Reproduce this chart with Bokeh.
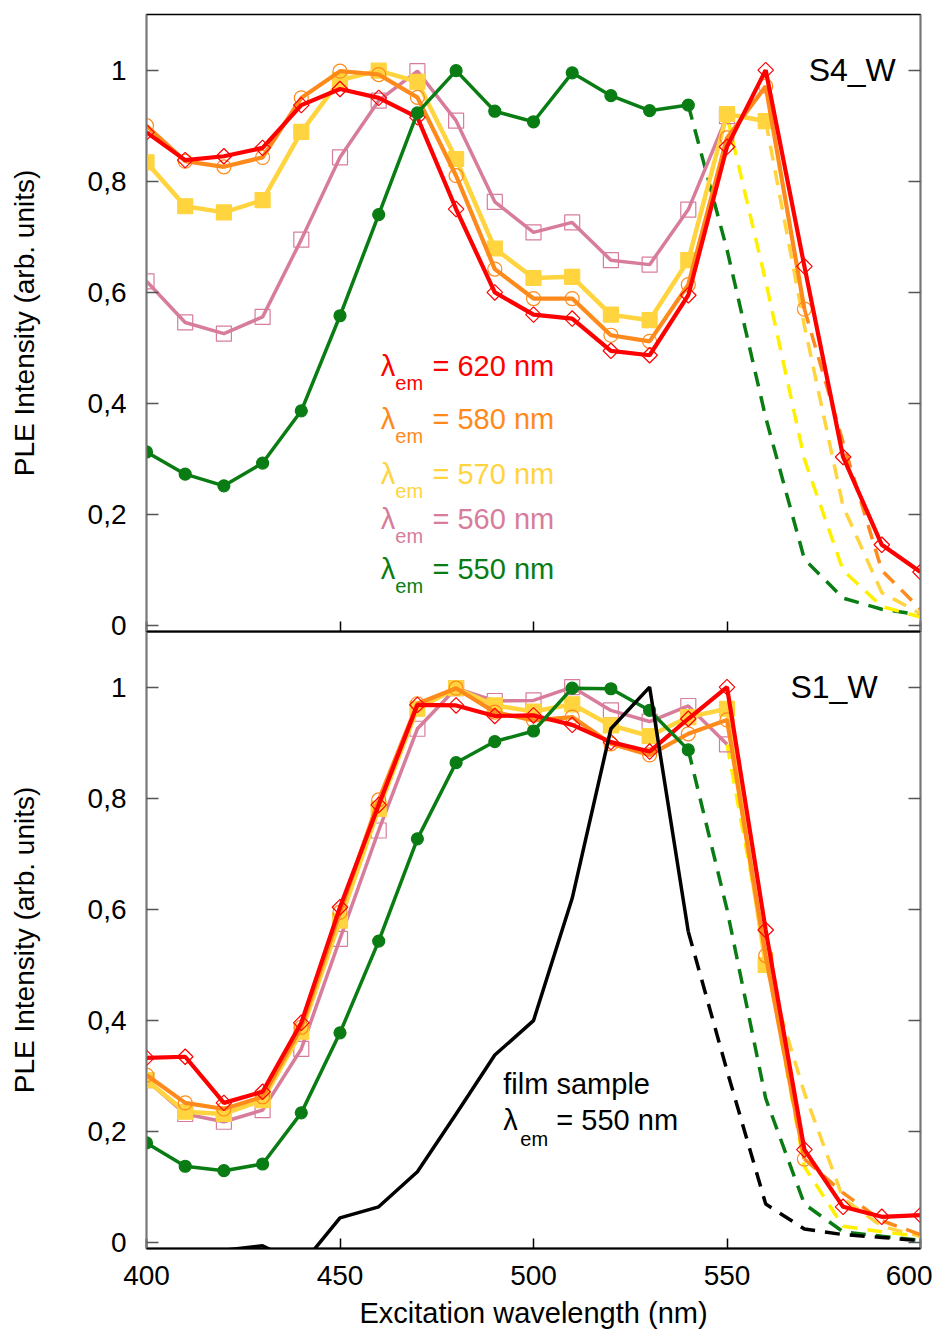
import math
from bokeh.plotting import figure
from bokeh.models import Range1d, LinearAxis, FixedTicker, ColumnDataSource
from bokeh.layouts import column
from bokeh.embed import file_html
from bokeh.resources import INLINE
from bokeh.core.properties import value

# ---------------- data ----------------
wavelengths = list(range(400, 601, 10))
x_ticks = [400, 450, 500, 550, 600]
y_ticks = [0, 0.2, 0.4, 0.6, 0.8, 1.0]
y_tick_labels = ["0", "0,2", "0,4", "0,6", "0,8", "1"]

series_names = ["620 nm", "580 nm", "570 nm", "560 nm", "550 nm"]

# S4_W (top panel)
s4_620 = [0.888, 0.838, 0.845, 0.86, 0.937, 0.966, 0.95, 0.915, 0.75, 0.60, 0.56,
          0.553, 0.495, 0.487, 0.595, 0.862, 1.0, 0.647, 0.304, 0.146, 0.097]
s4_580 = [0.90, 0.836, 0.826, 0.843, 0.95, 0.998, 0.992, 0.951, 0.81, 0.642, 0.589,
          0.589, 0.523, 0.512, 0.614, 0.878, 0.971, 0.57]
s4_580_tail = [0.57, 0.33, 0.10, 0.03]
s4_570 = [0.834, 0.755, 0.744, 0.766, 0.889, 0.982, 0.999, 0.979, 0.84, 0.679, 0.626,
          0.628, 0.56, 0.55, 0.658, 0.921, 0.908]
s4_570_tail = [0.908, 0.54, 0.215, 0.06, 0.022]
s4_560 = [0.62, 0.546, 0.526, 0.556, 0.695, 0.843, 0.945, 0.998, 0.909, 0.763, 0.708,
          0.726, 0.658, 0.65, 0.749, 0.917]
s4_560_tail = [0.917, 0.62, 0.30, 0.10, 0.035, 0.016]
s4_550 = [0.313, 0.273, 0.252, 0.293, 0.387, 0.558, 0.74, 0.923, 0.999, 0.926, 0.907,
          0.995, 0.954, 0.927, 0.937]
s4_550_tail = [0.937, 0.677, 0.375, 0.12, 0.05, 0.03, 0.02]

# S1_W (bottom panel)
s1_620 = [0.333, 0.335, 0.252, 0.272, 0.396, 0.604, 0.788, 0.968, 0.967, 0.948, 0.949,
          0.932, 0.901, 0.884, 0.943, 1.0, 0.563, 0.168, 0.065, 0.047, 0.05]
s1_580 = [0.302, 0.252, 0.241, 0.263, 0.388, 0.595, 0.797, 0.97, 0.998, 0.955, 0.94,
          0.946, 0.898, 0.878, 0.916, 0.941, 0.517, 0.151]
s1_580_tail = [0.151, 0.09, 0.04, 0.015]
s1_570 = [0.293, 0.236, 0.232, 0.257, 0.38, 0.58, 0.781, 0.961, 0.998, 0.967, 0.956,
          0.969, 0.931, 0.912, 0.946, 0.961, 0.5]
s1_570_tail = [0.5, 0.27, 0.08, 0.03, 0.012]
s1_560 = [0.293, 0.232, 0.218, 0.239, 0.349, 0.547, 0.742, 0.925, 0.998, 0.975, 0.976,
          1.0, 0.958, 0.938, 0.966, 0.897]
s1_560_tail = [0.897, 0.52, 0.137, 0.03, 0.02, 0.012]
s1_550 = [0.18, 0.138, 0.13, 0.142, 0.234, 0.378, 0.543, 0.727, 0.864, 0.902, 0.921,
          0.998, 0.997, 0.958, 0.887]
s1_550_tail = [0.887, 0.60, 0.26, 0.07, 0.02, 0.012, 0.005]

film_wavelengths = list(range(410, 541, 10))
film_550 = [-0.04, -0.013, -0.005, -0.04, 0.045, 0.065, 0.128, 0.232, 0.338, 0.40,
            0.62, 0.925, 1.0, 0.56]
film_550_tail = [0.56, 0.31, 0.07, 0.025, 0.015, 0.01, 0.004]

# ---------------- styles ----------------
FONT = "Liberation Sans"
RED = "#FF0000"
ORANGE = "#FF8A1C"
GOLD = "#FFD43E"
PINK = "#D77D9B"
GREEN = "#0A7C14"
YELLOW = "#FFF000"
BLACK = "#000000"
DASH = "15 10"
OVERLAP = 16


def base_figure(is_bottom):
    p = figure(frame_width=774, frame_height=617,
               x_range=Range1d(400, 600), y_range=Range1d(-0.01, 1.1),
               output_backend="svg", toolbar_location=None,
               min_border_left=146, min_border_right=12,
               min_border_top=0 if is_bottom else 14,
               min_border_bottom=0 if is_bottom else OVERLAP)
    p.grid.visible = False
    p.outline_line_color = "black"
    p.outline_line_width = 1.5
    if is_bottom:
        p.background_fill_alpha = 0.0
        p.border_fill_alpha = 0.0
        p.margin = (-OVERLAP, 0, 0, 0)

    # left axis
    yax = p.yaxis[0]
    yax.ticker = FixedTicker(ticks=y_ticks)
    yax.major_label_overrides = dict(zip(y_ticks, y_tick_labels))
    yax.major_tick_in = 12
    yax.major_tick_out = 0
    yax.minor_tick_line_color = None
    yax.major_tick_line_color = "#555555"
    yax.major_tick_line_width = 1.5
    yax.axis_line_color = "#777777"
    yax.axis_line_width = 1.5
    yax.major_label_text_font = FONT
    yax.major_label_text_font_size = "28px"
    yax.major_label_text_color = "black"
    yax.major_label_standoff = 20
    yax.axis_label = "PLE Intensity (arb. units)"
    yax.axis_label_text_font = FONT
    yax.axis_label_text_font_size = "28px"
    yax.axis_label_text_font_style = "normal"
    yax.axis_label_text_color = "black"
    yax.axis_label_standoff = 45

    # right axis (ticks only, no labels drawn)
    rax = LinearAxis(ticker=FixedTicker(ticks=y_ticks), major_label_text_font_size="0px",
                     major_label_text_color=None,
                     major_label_standoff=0, major_tick_in=12, major_tick_out=0,
                     minor_tick_line_color=None, major_tick_line_color="#555555",
                     major_tick_line_width=1.5, axis_line_color="#777777", axis_line_width=1.5)
    p.add_layout(rax, "right")

    # bottom axis
    xax = p.xaxis[0]
    xax.ticker = FixedTicker(ticks=x_ticks)
    xax.major_tick_in = 10
    xax.major_tick_out = 0
    xax.minor_tick_line_color = None
    xax.major_tick_line_color = "black"
    xax.major_tick_line_width = 1.5
    xax.axis_line_color = "black"
    xax.axis_line_width = 2
    if is_bottom:
        xax.major_label_text_font = FONT
        xax.major_label_text_font_size = "28px"
        xax.major_label_text_color = "black"
        xax.major_label_standoff = 17
        xax.axis_label = "Excitation wavelength (nm)"
        xax.axis_label_text_font = FONT
        xax.axis_label_text_font_size = "29px"
        xax.axis_label_text_font_style = "normal"
        xax.axis_label_text_color = "black"
        xax.axis_label_standoff = 9
    else:
        xax.major_label_text_font_size = "0px"
        xax.major_label_text_color = None
        xax.major_label_standoff = 0
    return p


def dashed(p, ys, color):
    xs = wavelengths[len(wavelengths) - len(ys):]
    p.line(xs, ys, line_color=color, line_width=3.5, line_dash=DASH)


def solid(p, ys, color, marker, size, fill, lw=4, xs=None, angle=0.0, mlw=1.2):
    if xs is None:
        xs = wavelengths[:len(ys)]
    p.line(xs, ys, line_color=color, line_width=lw)
    if marker is not None:
        p.scatter(xs, ys, marker=marker, size=size, angle=angle,
                  fill_color=fill, line_color=color if fill is None else fill,
                  line_width=mlw, fill_alpha=1.0 if fill else 0.0)


def add_text(p, xs, ys, texts, color, size, align="left"):
    src = ColumnDataSource(dict(x=xs, y=ys, t=texts))
    p.text(x="x", y="y", text="t", source=src, text_color=color,
           text_font=value(FONT), text_font_size=size,
           text_baseline="middle", text_align=align)


def draw_panel(p, d620, d580, d580t, d570, d570t, d560, d560t, d550, d550t):
    # dashed tails
    dashed(p, d550t, GREEN)
    dashed(p, d560t, YELLOW)
    dashed(p, d570t, GOLD)
    dashed(p, d580t, ORANGE)
    # solid series
    solid(p, d560, PINK, "square", 15, None, lw=3.5, mlw=1.2)
    solid(p, d570, GOLD, "square", 15, GOLD, lw=4.5)
    solid(p, d580, ORANGE, "circle", 14, None, lw=4.2, mlw=1.2)
    solid(p, d620, RED, "square", 11, None, lw=4.2, angle=math.pi / 4, mlw=1.2)
    solid(p, d550, GREEN, "circle", 12, GREEN, lw=3.5)


# ---------------- top panel ----------------
p1 = base_figure(False)
draw_panel(p1, s4_620, s4_580, s4_580_tail, s4_570, s4_570_tail,
           s4_560, s4_560_tail, s4_550, s4_550_tail)
add_text(p1, [571.1], [1.0], ["S4_W"], "black", "32px")

legend_colors = [RED, ORANGE, GOLD, PINK, GREEN]
legend_y = [0.468, 0.372, 0.273, 0.192, 0.103]
sub_drop = 0.031
for name, col, yy in zip(series_names, legend_colors, legend_y):
    add_text(p1, [460.5], [yy], ["\u03bb"], col, "29px")
    add_text(p1, [464.3], [yy - sub_drop], ["em"], col, "20px")
    add_text(p1, [473.9], [yy], ["= " + name], col, "29px")

# ---------------- bottom panel ----------------
p2 = base_figure(True)
draw_panel(p2, s1_620, s1_580, s1_580_tail, s1_570, s1_570_tail,
           s1_560, s1_560_tail, s1_550, s1_550_tail)
dashed(p2, film_550_tail, BLACK)
p2.line(film_wavelengths, film_550, line_color=BLACK, line_width=3.5)
add_text(p2, [566.4], [1.0], ["S1_W"], "black", "32px")
add_text(p2, [492.2], [0.286], ["film sample"], "black", "29px")
add_text(p2, [492.2], [0.221], ["\u03bb"], "black", "29px")
add_text(p2, [496.6], [0.187], ["em"], "black", "20px")
add_text(p2, [505.9], [0.221], ["= 550 nm"], "black", "29px")

layout = column(p1, p2, spacing=0)
open("out.html", "w").write(file_html(layout, INLINE))
